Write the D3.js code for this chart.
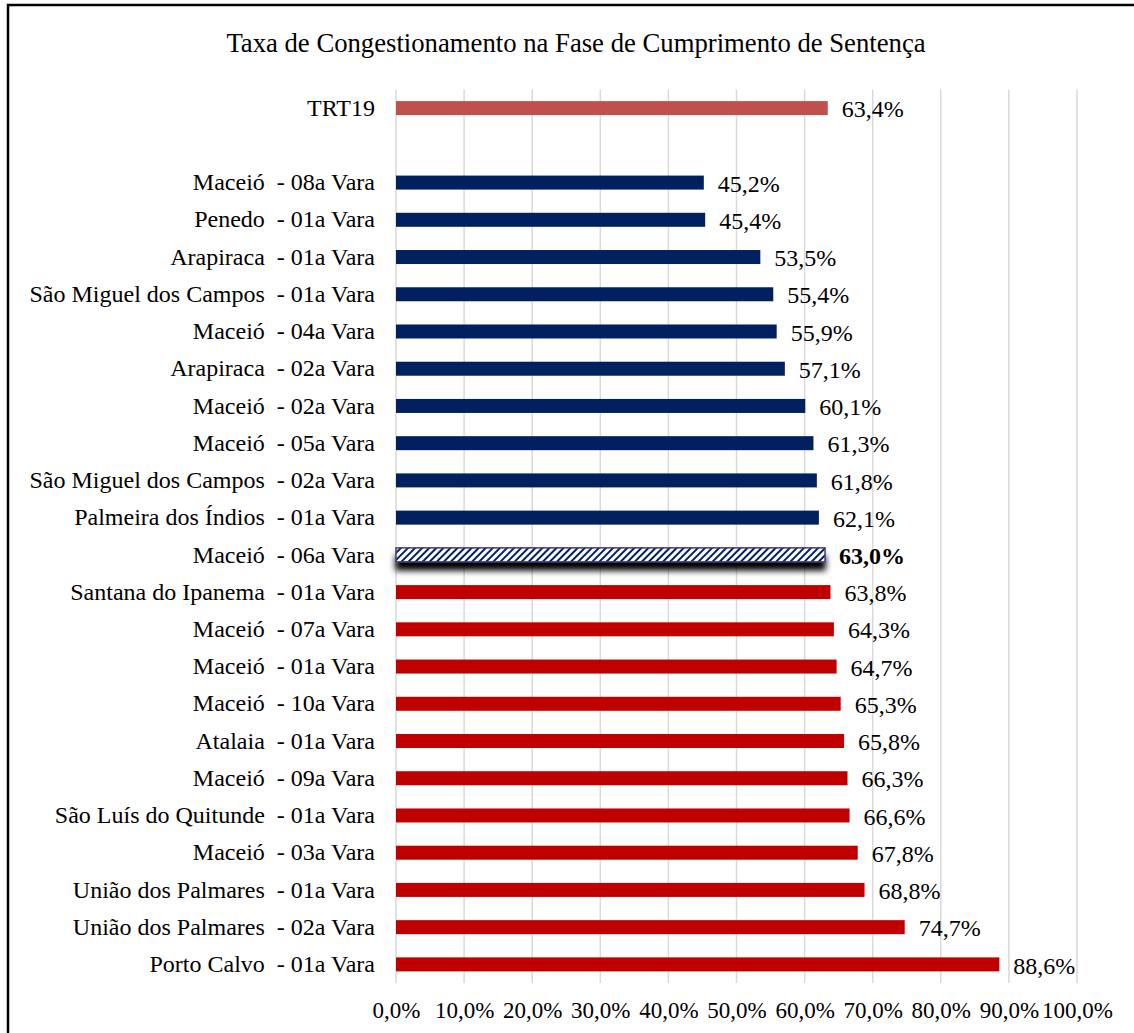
<!DOCTYPE html>
<html>
<head>
<meta charset="utf-8">
<script src="https://cdn.jsdelivr.net/npm/d3@7"></script>
<style>
  html, body { margin: 0; padding: 0; background: #fff; }
  svg { display: block; }
  text { font-family: "Liberation Serif", "Times New Roman", serif; fill: #000; white-space: pre; }
</style>
</head>
<body>
<div id="chart"></div>
<script>
// ---- data ----
const title = "Taxa de Congestionamento na Fase de Cumprimento de Sentença";
const categories = [
  "TRT19",
  "",
  "Maceió  - 08a Vara",
  "Penedo  - 01a Vara",
  "Arapiraca  - 01a Vara",
  "São Miguel dos Campos  - 01a Vara",
  "Maceió  - 04a Vara",
  "Arapiraca  - 02a Vara",
  "Maceió  - 02a Vara",
  "Maceió  - 05a Vara",
  "São Miguel dos Campos  - 02a Vara",
  "Palmeira dos Índios  - 01a Vara",
  "Maceió  - 06a Vara",
  "Santana do Ipanema  - 01a Vara",
  "Maceió  - 07a Vara",
  "Maceió  - 01a Vara",
  "Maceió  - 10a Vara",
  "Atalaia  - 01a Vara",
  "Maceió  - 09a Vara",
  "São Luís do Quitunde  - 01a Vara",
  "Maceió  - 03a Vara",
  "União dos Palmares  - 01a Vara",
  "União dos Palmares  - 02a Vara",
  "Porto Calvo  - 01a Vara"
];
const values = [
  63.4, null,
  45.2, 45.4, 53.5, 55.4, 55.9, 57.1, 60.1, 61.3, 61.8, 62.1,
  63.0,
  63.8, 64.3, 64.7, 65.3, 65.8, 66.3, 66.6, 67.8, 68.8, 74.7, 88.6
];
const totalCategory = "TRT19";
const highlightCategory = "Maceió  - 06a Vara";
const xTicks = [0, 10, 20, 30, 40, 50, 60, 70, 80, 90, 100];

// ---- layout ----
const W = 1134, H = 1033;
const x0 = 396, x1 = 1077;
const yTop = 89.5, yBottom = 983;
const fmt = v => v.toFixed(1).replace(".", ",") + "%";

const svg = d3.select("#chart").append("svg").attr("width", W).attr("height", H);

const defs = svg.append("defs");
const pat = defs.append("pattern")
  .attr("id", "hatch").attr("patternUnits", "userSpaceOnUse")
  .attr("width", 5).attr("height", 5)
  .attr("patternTransform", "rotate(45)");
pat.append("rect").attr("width", 5).attr("height", 5).attr("fill", "#fff");
pat.append("rect").attr("width", 2).attr("height", 5).attr("fill", "#002060");

const flt = defs.append("filter").attr("id", "shadow")
  .attr("x", "-5%").attr("y", "-100%").attr("width", "110%").attr("height", "400%");
flt.append("feGaussianBlur").attr("in", "SourceAlpha").attr("stdDeviation", 3).attr("result", "b");
flt.append("feOffset").attr("in", "b").attr("dx", 0).attr("dy", 8).attr("result", "o");
const fm = flt.append("feMerge");
fm.append("feMergeNode").attr("in", "o");
fm.append("feMergeNode").attr("in", "SourceGraphic");

// outer frame
svg.append("rect").attr("x", 8).attr("y", 5).attr("width", W + 20).attr("height", H + 20)
  .attr("fill", "none").attr("stroke", "#000").attr("stroke-width", 2.5);

// title
svg.append("text").attr("x", 576).attr("y", 52).attr("text-anchor", "middle")
  .attr("font-size", 26.7).text(title);

const x = d3.scaleLinear().domain([0, 100]).range([x0, x1]);
const y = d3.scaleBand().domain(categories).range([yTop, yBottom]).paddingInner(0.62).paddingOuter(0.31);

// gridlines
svg.append("g").selectAll("line").data(xTicks).join("line")
  .attr("x1", d => x(d)).attr("x2", d => x(d))
  .attr("y1", yTop).attr("y2", yBottom)
  .attr("stroke", "#d9d9d9").attr("stroke-width", 1.5);

// x axis labels
const xAxis = d3.axisBottom(x).tickValues(xTicks).tickSize(0).tickPadding(0)
  .tickFormat(d => d.toFixed(1).replace(".", ",") + "%");
const gx = svg.append("g").attr("transform", `translate(0, ${yBottom + 19})`).call(xAxis);
gx.select(".domain").remove();
gx.selectAll("text").attr("font-size", 23).attr("font-family", "Liberation Serif").attr("fill", "#000")
  .attr("dy", "0.71em");

// category labels
const yAxis = d3.axisLeft(y).tickSize(0).tickPadding(0);
const gy = svg.append("g").attr("transform", `translate(375, 0)`).call(yAxis);
gy.select(".domain").remove();
gy.selectAll("text").attr("font-size", 24).attr("font-family", "Liberation Serif").attr("fill", "#000")
  .attr("dy", "0.32em").style("white-space", "pre");

const rows = categories.map((c, i) => ({ c, v: values[i] })).filter(d => d.v != null);
const hv = values[categories.indexOf(highlightCategory)];
const colorOf = d => d.c === totalCategory ? "#C0504D" : (d.v < hv ? "#002060" : "#C00000");

const bh = 14;
svg.append("g").selectAll("rect").data(rows).join("rect")
  .attr("x", x(0))
  .attr("y", d => y(d.c) + y.bandwidth() / 2 - bh / 2)
  .attr("width", d => x(d.v) - x(0))
  .attr("height", bh)
  .attr("fill", d => d.c === highlightCategory ? "url(#hatch)" : colorOf(d))
  .attr("stroke", d => d.c === highlightCategory ? "#403c7c" : "none")
  .attr("stroke-width", 1.5)
  .attr("filter", d => d.c === highlightCategory ? "url(#shadow)" : null);

// value labels
svg.append("g").selectAll("text").data(rows).join("text")
  .attr("x", d => x(d.v) + 14)
  .attr("y", d => y(d.c) + y.bandwidth() / 2)
  .attr("dy", "0.38em")
  .attr("font-size", 24)
  .attr("font-weight", d => d.c === highlightCategory ? "bold" : "normal")
  .text(d => fmt(d.v));
</script>
</body>
</html>
